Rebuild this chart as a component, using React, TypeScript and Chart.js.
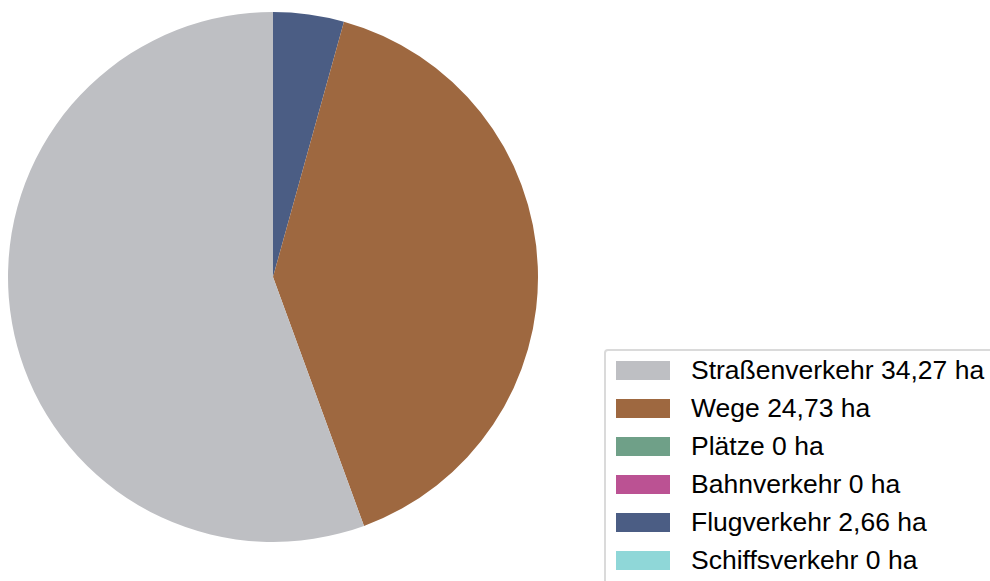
import React, { useEffect, useRef } from "react";
import { Chart, registerables } from "chart.js";

Chart.register(...registerables);

const categories = ["Straßenverkehr", "Wege", "Plätze", "Bahnverkehr", "Flugverkehr", "Schiffsverkehr"];
const values = [34.27, 24.73, 0, 0, 2.66, 0];
const colors = ["#bebfc3", "#9e6840", "#6fa088", "#bb5293", "#4b5d84", "#8fd7d8"];
const unit = "ha";

const fmt = (v: number) => (v === 0 ? "0" : v.toFixed(2).replace(".", ","));

export default function App() {
  const ref = useRef<HTMLCanvasElement | null>(null);

  useEffect(() => {
    if (!ref.current) return;
    // drawn counter-clockwise in the reference: reverse order for Chart.js clockwise drawing
    const labels = [...categories].reverse();
    const data = [...values].reverse();
    const bg = [...colors].reverse();
    const chart = new Chart(ref.current, {
      type: "pie",
      data: {
        labels,
        datasets: [{ data, backgroundColor: bg, borderWidth: 0 }],
      },
      options: {
        animation: false,
        responsive: true,
        maintainAspectRatio: false,
        layout: { padding: 0 },
        plugins: {
          legend: { display: false },
          tooltip: { enabled: false },
        },
      },
    });
    return () => chart.destroy();
  }, []);

  return (
    <div style={{ position: "fixed", left: 0, top: 0, width: 990, height: 581, background: "#fff", overflow: "hidden" }}>
      <div style={{ position: "absolute", left: 8, top: 12, width: 530, height: 530 }}>
        <canvas ref={ref} />
      </div>
      <div
        style={{
          position: "absolute",
          left: 604,
          top: 349,
          width: 400,
          height: 260,
          border: "2px solid #dadada",
          borderRadius: 4,
          boxSizing: "border-box",
          fontFamily: "'Liberation Sans', Arial, sans-serif",
          fontSize: 26.5,
          color: "#000",
        }}
      >
        {categories.map((c, i) => (
          <div
            key={c}
            style={{ position: "absolute", left: 10, top: 5 + i * 38, height: 28, display: "flex", alignItems: "center" }}
          >
            <div style={{ width: 54, height: 19, background: colors[i], marginRight: 21 }} />
            <span style={{ whiteSpace: "nowrap", lineHeight: "28px" }}>
              {c} {fmt(values[i])} {unit}
            </span>
          </div>
        ))}
      </div>
    </div>
  );
}
